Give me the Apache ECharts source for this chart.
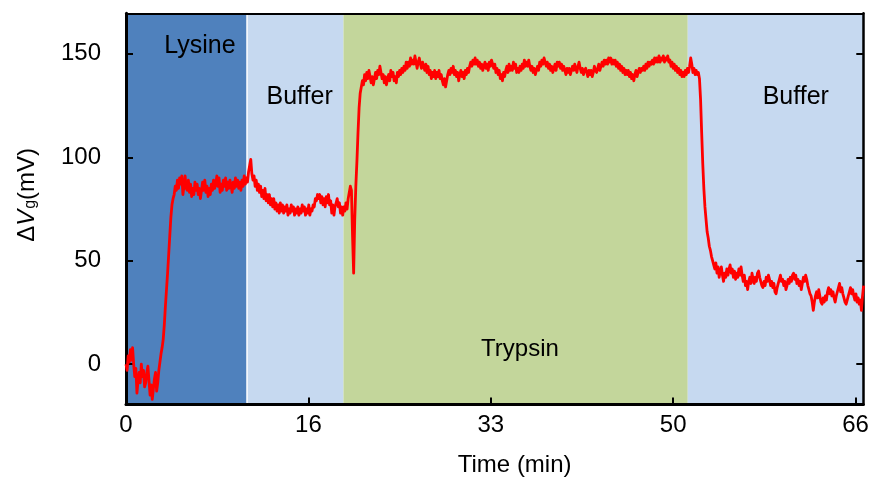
<!DOCTYPE html>
<html>
<head>
<meta charset="utf-8">
<script src="https://cdn.jsdelivr.net/npm/echarts@6/dist/echarts.min.js"></script>
<style>
html,body{margin:0;padding:0;background:#fff;}
#chart{width:870px;height:478px;}
</style>
</head>
<body>
<div id="chart"></div>
<script>
// ---- data ----
const phaseNames = ['Lysine', 'Buffer', 'Trypsin', 'Buffer'];
const phaseStart = [0, 11.07, 19.87, 51.33];
const phaseEnd   = [11.07, 19.87, 51.33, 67.37];

const xTickValues = [0, 16.667, 33.333, 50, 66.667];
const xTickLabels = ['0', '16', '33', '50', '66'];
const yTickValues = [0, 50, 100, 150];
const yTickLabels = ['0', '50', '100', '150'];

// [time (min), ΔVg (mV)]
const lysineTrace = [
  [0,0],[0.1,-3],[0.2,4],[0.3,1],[0.4,7],[0.5,2],[0.6,8],[0.7,0],[0.8,-6],[0.9,-2],
  [1.0,-14],[1.1,-8],[1.2,-4],[1.3,-9],[1.4,0],[1.5,-6],[1.6,-3],[1.7,-11],[1.8,-9],[1.9,-4],
  [2.0,-1],[2.1,-8],[2.2,-15],[2.3,-10],[2.4,-17],[2.5,-12],[2.6,-7],[2.7,-4],[2.8,-13],[2.9,-9],
  [3.0,-3],[3.1,1],[3.2,5],[3.3,8],[3.4,12],[3.5,19],[3.6,28],[3.7,36],[3.8,44],[3.9,53],
  [4.0,62],[4.1,71],[4.2,77],[4.3,80],[4.4,82],[4.5,86],[4.6,84],[4.7,89],[4.8,85],[4.9,90],
  [5.0,87],[5.1,91],[5.2,82],[5.3,86],[5.4,91],[5.5,85],[5.6,84],[5.7,89],[5.8,83],[5.9,87],
  [6.0,81],[6.1,85],[6.2,82],[6.3,88],[6.4,84],[6.5,87],[6.6,82],[6.7,85],[6.8,80],[6.9,84],
  [7.0,88],[7.1,84],[7.2,89],[7.3,83],[7.4,86],[7.5,81],[7.6,85],[7.7,82],[7.8,87],[7.9,84],
  [8.0,89],[8.1,85],[8.2,87],[8.3,91],[8.4,86],[8.5,90],[8.6,83],[8.7,87],[8.8,84],[8.9,89],
  [9.0,86],[9.1,90],[9.2,84],[9.3,88],[9.4,85],[9.5,89],[9.6,86],[9.7,83],[9.8,88],[9.9,85],
  [10.0,90],[10.1,86],[10.2,89],[10.3,85],[10.4,88],[10.5,84],[10.6,89],[10.7,86],[10.8,91],[10.9,87],
  [11.0,90]
];
const buffer1Trace = [
  [11.1,88],[11.2,93],[11.3,96],[11.4,99],[11.5,92],[11.6,89],[11.7,91],[11.8,86],[11.9,89],
  [12.0,84],[12.1,87],[12.2,83],[12.3,86],[12.4,81],[12.5,84],[12.6,80],[12.7,85],[12.8,79],[12.9,82],
  [13.0,78],[13.1,82],[13.2,77],[13.3,80],[13.4,76],[13.5,80],[13.6,75],[13.7,78],[13.8,74],[13.9,77],
  [14.0,73],[14.1,78],[14.2,74],[14.3,77],[14.4,73],[14.5,76],[14.6,74],[14.7,77],[14.8,72],[14.9,75],
  [15.0,73],[15.1,77],[15.2,74],[15.3,76],[15.4,72],[15.5,75],[15.6,73],[15.7,76],[15.8,72],[15.9,75],
  [16.0,73],[16.1,77],[16.2,74],[16.3,76],[16.4,72],[16.5,75],[16.6,73],[16.7,77],[16.8,72],[16.9,75],
  [17.0,74],[17.1,77],[17.2,76],[17.3,80],[17.4,79],[17.5,82],[17.6,80],[17.7,82],[17.8,78],[17.9,81],
  [18.0,77],[18.1,80],[18.2,76],[18.3,81],[18.4,78],[18.5,82],[18.6,77],[18.7,79],[18.8,73],[18.9,77],
  [19.0,72],[19.1,76],[19.2,78],[19.3,80],[19.4,76],[19.5,78],[19.6,73],[19.7,76],[19.8,72]
];
const trypsinTrace = [
  [19.9,76],[20.0,74],[20.1,78],[20.2,75],[20.3,80],[20.4,83],[20.5,86],[20.6,84],[20.7,62],[20.8,44],
  [20.9,70],[21.0,86],[21.1,98],[21.2,112],[21.3,124],[21.4,131],[21.5,134],[21.6,137],[21.7,135],[21.8,140],
  [21.9,137],[22.0,141],[22.1,138],[22.2,142],[22.3,139],[22.4,136],[22.5,139],[22.6,135],[22.7,138],[22.8,141],
  [22.9,138],[23.0,142],[23.1,140],[23.2,144],[23.3,141],[23.4,138],[23.5,140],[23.6,136],[23.7,139],[23.8,135],
  [23.9,138],[24.0,140],[24.1,137],[24.2,142],[24.3,139],[24.4,141],[24.5,137],[24.6,139],[24.7,136],[24.8,141],
  [24.9,139],[25.0,142],[25.1,140],[25.2,143],[25.3,141],[25.4,144],[25.5,142],[25.6,146],[25.7,143],[25.8,146],
  [25.9,144],[26.0,148],[26.1,145],[26.2,147],[26.3,145],[26.4,149],[26.5,146],[26.6,143],[26.7,146],[26.8,148],
  [26.9,145],[27.0,143],[27.1,146],[27.2,144],[27.3,142],[27.4,145],[27.5,141],[27.6,144],[27.7,140],[27.8,142],
  [27.9,138],[28.0,141],[28.1,139],[28.2,142],[28.3,138],[28.4,141],[28.5,139],[28.6,142],[28.7,138],[28.8,140],
  [28.9,137],[29.0,135],[29.1,138],[29.2,134],[29.3,137],[29.4,140],[29.5,142],[29.6,140],[29.7,143],[29.8,141],
  [29.9,144],[30.0,140],[30.1,142],[30.2,139],[30.3,141],[30.4,137],[30.5,140],[30.6,142],[30.7,139],[30.8,141],
  [30.9,138],[31.0,142],[31.1,140],[31.2,143],[31.3,141],[31.4,144],[31.5,146],[31.6,144],[31.7,147],[31.8,145],
  [31.9,148],[32.0,145],[32.1,147],[32.2,144],[32.3,146],[32.4,143],[32.5,145],[32.6,142],[32.7,144],[32.8,146],
  [32.9,143],[33.0,145],[33.1,142],[33.2,146],[33.3,144],[33.4,147],[33.5,145],[33.6,143],[33.7,145],[33.8,141],
  [33.9,143],[34.0,140],[34.1,142],[34.2,138],[34.3,140],[34.4,137],[34.5,141],[34.6,139],[34.7,142],[34.8,144],
  [34.9,141],[35.0,145],[35.1,142],[35.2,144],[35.3,142],[35.4,146],[35.5,143],[35.6,145],[35.7,141],[35.8,143],
  [35.9,141],[36.0,144],[36.1,142],[36.2,145],[36.3,143],[36.4,147],[36.5,144],[36.6,146],[36.7,144],[36.8,147],
  [36.9,144],[37.0,142],[37.1,144],[37.2,141],[37.3,143],[37.4,140],[37.5,142],[37.6,144],[37.7,142],[37.8,146],
  [37.9,144],[38.0,147],[38.1,145],[38.2,148],[38.3,146],[38.4,144],[38.5,146],[38.6,143],[38.7,145],[38.8,142],
  [38.9,144],[39.0,141],[39.1,143],[39.2,145],[39.3,142],[39.4,146],[39.5,144],[39.6,146],[39.7,143],[39.8,145],
  [39.9,142],[40.0,144],[40.1,142],[40.2,140],[40.3,143],[40.4,141],[40.5,143],[40.6,140],[40.7,142],[40.8,144],
  [40.9,142],[41.0,145],[41.1,143],[41.2,141],[41.3,144],[41.4,146],[41.5,143],[41.6,141],[41.7,143],[41.8,140],
  [41.9,142],[42.0,143],[42.1,141],[42.2,139],[42.3,142],[42.4,140],[42.5,142],[42.6,139],[42.7,141],[42.8,144],
  [42.9,142],[43.0,141],[43.1,143],[43.2,145],[43.3,142],[43.4,144],[43.5,146],[43.6,144],[43.7,147],[43.8,145],
  [43.9,147],[44.0,145],[44.1,148],[44.2,146],[44.3,148],[44.4,145],[44.5,147],[44.6,145],[44.7,147],[44.8,144],
  [44.9,146],[45.0,143],[45.1,145],[45.2,142],[45.3,144],[45.4,141],[45.5,143],[45.6,140],[45.7,142],[45.8,140],
  [45.9,142],[46.0,139],[46.1,141],[46.2,138],[46.3,140],[46.4,137],[46.5,140],[46.6,142],[46.7,139],[46.8,141],
  [46.9,143],[47.0,141],[47.1,143],[47.2,142],[47.3,144],[47.4,142],[47.5,145],[47.6,143],[47.7,146],[47.8,144],
  [47.9,146],[48.0,145],[48.1,147],[48.2,145],[48.3,148],[48.4,146],[48.5,148],[48.6,146],[48.7,149],[48.8,146],
  [48.9,148],[49.0,147],[49.1,149],[49.2,146],[49.3,148],[49.4,147],[49.5,149],[49.6,146],[49.7,147],[49.8,144],
  [49.9,146],[50.0,143],[50.1,145],[50.2,142],[50.3,144],[50.4,141],[50.5,143],[50.6,140],[50.7,142],[50.8,139],
  [50.9,141],[51.0,139],[51.1,142],[51.2,140]
];
const buffer2Trace = [
  [51.3,143],[51.4,141],[51.5,144],[51.6,148],[51.7,145],[51.8,141],[51.9,143],[52.0,140],[52.1,142],[52.2,140],
  [52.3,141],[52.4,138],[52.5,128],[52.6,112],[52.7,97],[52.8,85],[52.9,76],[53.0,70],[53.1,64],[53.2,61],
  [53.3,57],[53.4,55],[53.5,52],[53.6,50],[53.7,48],[53.8,46],[53.9,49],[54.0,44],[54.1,47],[54.2,42],
  [54.3,45],[54.4,47],[54.5,43],[54.6,40],[54.7,44],[54.8,42],[54.9,46],[55.0,43],[55.1,46],[55.2,48],
  [55.3,44],[55.4,46],[55.5,42],[55.6,45],[55.7,41],[55.8,44],[55.9,42],[56.0,46],[56.1,43],[56.2,47],
  [56.3,43],[56.4,40],[56.5,43],[56.6,38],[56.7,40],[56.8,36],[56.9,40],[57.0,42],[57.1,39],[57.2,44],
  [57.3,41],[57.4,39],[57.5,42],[57.6,40],[57.7,44],[57.8,45],[57.9,42],[58.0,40],[58.1,38],[58.2,37],
  [58.3,40],[58.4,38],[58.5,42],[58.6,40],[58.7,43],[58.8,41],[58.9,38],[59.0,40],[59.1,37],[59.2,39],
  [59.3,35],[59.4,34],[59.5,37],[59.6,39],[59.7,41],[59.8,43],[59.9,40],[60.0,41],[60.1,38],[60.2,40],
  [60.3,36],[60.4,38],[60.5,41],[60.6,39],[60.7,42],[60.8,40],[60.9,43],[61.0,44],[61.1,41],[61.2,43],
  [61.3,39],[61.4,41],[61.5,38],[61.6,40],[61.7,36],[61.8,39],[61.9,42],[62.0,40],[62.1,43],[62.2,41],
  [62.3,38],[62.4,36],[62.5,34],[62.6,33],[62.7,30],[62.8,26],[62.9,30],[63.0,33],[63.1,35],[63.2,32],
  [63.3,36],[63.4,33],[63.5,30],[63.6,29],[63.7,32],[63.8,30],[63.9,33],[64.0,31],[64.1,35],[64.2,37],
  [64.3,34],[64.4,36],[64.5,33],[64.6,35],[64.7,32],[64.8,30],[64.9,33],[65.0,35],[65.1,37],[65.2,39],
  [65.3,35],[65.4,37],[65.5,34],[65.6,32],[65.7,30],[65.8,29],[65.9,31],[66.0,33],[66.1,35],[66.2,37],
  [66.3,34],[66.4,36],[66.5,33],[66.6,31],[66.7,34],[66.8,30],[66.9,32],[67.0,29],[67.1,31],[67.2,26],
  [67.3,33],[67.4,38]
];

// ---- styles ----
const FONT = "'Liberation Sans', Arial, sans-serif";
const phaseColors = ['#4F81BD', '#C6D9F0', '#C3D69B', '#C6D9F0'];
const phaseLabelOffsets = [[74, 33], [52.5, 83.5], [176.5, 336], [108, 83.5]];
const phaseLabelSizes = [25, 25, 24, 25];

const traceData = lysineTrace.concat(buffer1Trace, trypsinTrace, buffer2Trace);
const xMin = 0, xMax = 67.37, yMin = -19.5, yMax = 169.6;

function lookupLabel(values, labels, v) {
  const i = values.findIndex(t => Math.abs(t - v) < 1e-3);
  return i >= 0 ? labels[i] : '';
}

const areaData = phaseNames.map((name, i) => [
  {
    name: name,
    xAxis: phaseStart[i],
    itemStyle: { color: phaseColors[i] },
    label: { position: phaseLabelOffsets[i], fontSize: phaseLabelSizes[i] }
  },
  { xAxis: phaseEnd[i] }
]);

const chart = echarts.init(document.getElementById('chart'), null, { renderer: 'canvas' });
chart.setOption({
  animation: false,
  backgroundColor: '#ffffff',
  grid: { left: 126, top: 13.3, width: 737.3, height: 391.2, containLabel: false, outerBoundsMode: 'none' },
  xAxis: [
    {
      type: 'value', min: xMin, max: xMax, position: 'bottom', z: 5,
      axisLine: { show: true, onZero: false, lineStyle: { color: '#000', width: 3 } },
      axisTick: { show: true, inside: true, length: 7, customValues: xTickValues, lineStyle: { color: '#000', width: 2 } },
      axisLabel: {
        show: true, customValues: xTickValues, margin: 9, color: '#000', fontSize: 24, fontFamily: FONT,
        formatter: v => lookupLabel(xTickValues, xTickLabels, v)
      },
      splitLine: { show: false },
      name: 'Time (min)', nameLocation: 'middle', nameGap: 49,
      nameTextStyle: { color: '#000', fontSize: 24, fontFamily: FONT, padding: [0, 0, 0, 40] }
    },
    {
      type: 'value', min: xMin, max: xMax, position: 'top', z: 5,
      axisLine: { show: true, onZero: false, lineStyle: { color: '#000', width: 2 } },
      axisTick: { show: false },
      axisLabel: { show: false },
      splitLine: { show: false }
    }
  ],
  yAxis: [
    {
      type: 'value', min: yMin, max: yMax, position: 'left', z: 5,
      axisLine: { show: true, onZero: false, lineStyle: { color: '#000', width: 3 } },
      axisTick: { show: true, inside: true, length: 7, customValues: yTickValues, lineStyle: { color: '#000', width: 2 } },
      axisLabel: {
        show: true, customValues: yTickValues, margin: 25, color: '#000', fontSize: 24, fontFamily: FONT,
        padding: [0, 0, 6, 0],
        formatter: v => lookupLabel(yTickValues, yTickLabels, v)
      },
      splitLine: { show: false },
      name: '{a|Δ}{b|V}{c|g}{a|(mV)}',
      nameLocation: 'middle', nameRotate: 90, nameGap: 87,
      nameTextStyle: {
        color: '#000', fontFamily: FONT, padding: [0, 0, 0, 28],
        rich: {
          a: { fontSize: 24, lineHeight: 24, verticalAlign: 'top', fontStyle: 'normal', fontFamily: FONT, color: '#000' },
          b: { fontSize: 24, lineHeight: 24, verticalAlign: 'top', fontStyle: 'italic', fontFamily: FONT, color: '#000' },
          c: { fontSize: 16, lineHeight: 16, padding: [15, 0, 0, 1], verticalAlign: 'bottom', fontFamily: FONT, color: '#000' }
        }
      }
    },
    {
      type: 'value', min: yMin, max: yMax, position: 'right', z: 5,
      axisLine: { show: true, onZero: false, lineStyle: { color: '#000', width: 2.5 } },
      axisTick: { show: true, inside: true, length: 7, customValues: yTickValues, lineStyle: { color: '#000', width: 2 } },
      axisLabel: { show: false },
      splitLine: { show: false }
    }
  ],
  series: [
    {
      type: 'line',
      xAxisIndex: 0, yAxisIndex: 0,
      z: 10,
      data: traceData,
      showSymbol: false,
      symbol: 'none',
      sampling: false,
      lineStyle: { color: '#FF0000', width: 2.8, join: 'round' },
      emphasis: { disabled: true },
      markArea: {
        silent: true,
        z: 1,
        emphasis: { disabled: true },
        label: {
          show: true, color: '#000', fontSize: 24, fontFamily: FONT,
          align: 'center', verticalAlign: 'middle'
        },
        data: areaData
      },
      markLine: {
        silent: true,
        z: 2,
        symbol: 'none',
        label: { show: false },
        emphasis: { disabled: true },
        lineStyle: { color: '#ffffff', width: 1.5, type: 'solid' },
        data: [{ xAxis: phaseStart[1] }]
      }
    }
  ]
});
</script>
</body>
</html>
